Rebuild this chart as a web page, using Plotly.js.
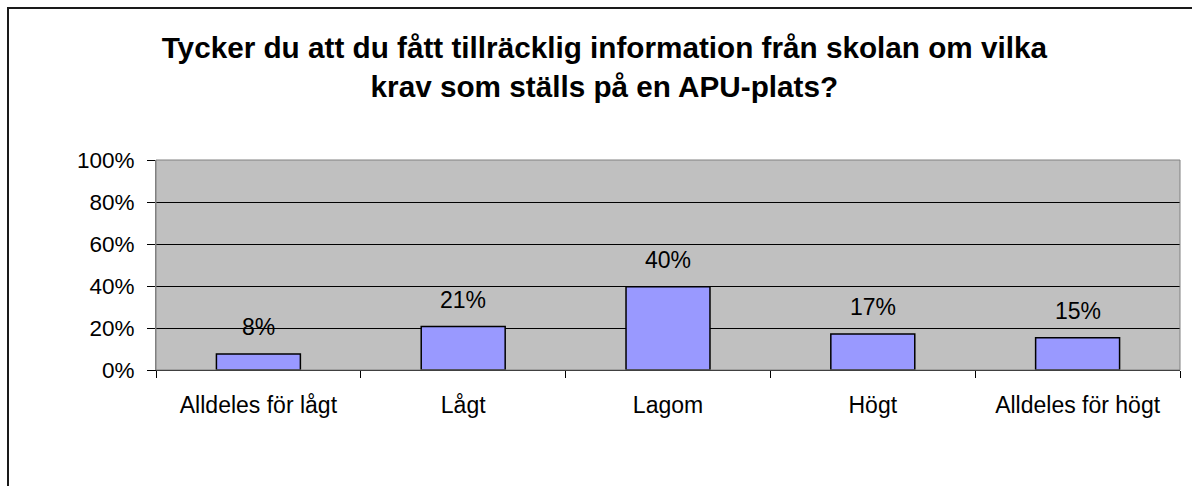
<!DOCTYPE html>
<html>
<head>
<meta charset="utf-8">
<script src="https://cdn.plot.ly/plotly-3.0.1.min.js"></script>
<style>
html,body{margin:0;padding:0;overflow:hidden;background:#fff;}
#wrap{position:relative;width:1192px;height:486px;overflow:hidden;}
#chart{width:1192px;height:486px;}
#frame{position:absolute;left:7px;top:7px;width:1400px;height:700px;border:2px solid #1a1a1a;pointer-events:none;}
</style>
</head>
<body>
<div id="wrap"><div id="chart"></div><div id="frame"></div></div>
<script>
const categories = ["Alldeles för lågt", "Lågt", "Lagom", "Högt", "Alldeles för högt"];
const values = [0.076, 0.207, 0.397, 0.171, 0.153];
const yTickVals = [0, 0.2, 0.4, 0.6, 0.8, 1.0];
const yTickText = ["0%", "20%", "40%", "60%", "80%", "100%"];
const titleText = "Tycker du att du fått tillräcklig information från skolan om vilka<br>krav som ställs på en APU-plats?";

const font = "Liberation Sans, Arial, sans-serif";

const trace = {
  type: "bar",
  x: categories,
  y: values,
  width: 0.41,
  marker: {color: "#9999FF", line: {color: "#000000", width: 1.5}},
  hoverinfo: "skip"
};

const annotations = categories.map((c, i) => ({
  x: c, y: values[i], xref: "x", yref: "y",
  text: Math.round(values[i] * 100) + "%",
  showarrow: false, yanchor: "bottom", yshift: 12,
  font: {family: font, size: 23, color: "#000"}
}));

const layout = {
  width: 1192, height: 486,
  margin: {l: 156, r: 12, t: 160, b: 116, pad: 0},
  paper_bgcolor: "#ffffff",
  plot_bgcolor: "#C0C0C0",
  showlegend: false,
  bargap: 0.59,
  title: {
    text: "<b>" + titleText + "</b>",
    font: {family: font, size: 29.7, color: "#000"},
    x: 0.507, xanchor: "center", xref: "container",
    y: 1 - 58 / 486, yanchor: "top", yref: "container"
  },
  xaxis: {
    type: "category",
    showline: true, linecolor: "#000", linewidth: 1,
    ticks: "outside", ticklen: 7, tickcolor: "#000", tickson: "boundaries",
    ticklabelstandoff: 14,
    tickfont: {family: font, size: 23, color: "#000"},
    showgrid: false, zeroline: false, fixedrange: true
  },
  yaxis: {
    range: [0, 1],
    tickvals: yTickVals, ticktext: yTickText,
    showline: true, linecolor: "#808080", linewidth: 1,
    ticks: "outside", ticklen: 8, tickcolor: "#000",
    ticklabelstandoff: 8,
    tickfont: {family: font, size: 22.5, color: "#000"},
    showgrid: true, gridcolor: "#000", gridwidth: 1,
    zeroline: false, fixedrange: true
  },
  shapes: [
    {type: "rect", xref: "paper", yref: "paper", x0: 0, x1: 1, y0: 0, y1: 1,
     line: {color: "#808080", width: 1}, fillcolor: "rgba(0,0,0,0)"}
  ],
  annotations: annotations
};

Plotly.newPlot("chart", [trace], layout, {displayModeBar: false, staticPlot: true});
</script>
</body>
</html>
